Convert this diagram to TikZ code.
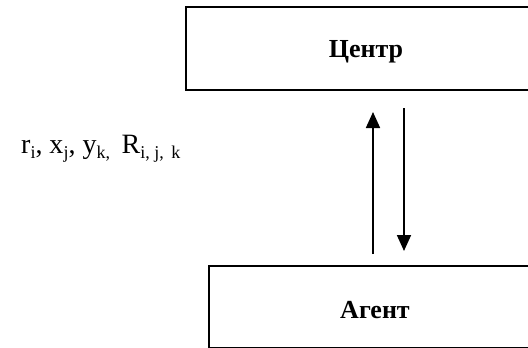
\documentclass[tikz,border=0pt]{standalone}
\usepackage{fontspec}
\setmainfont{Liberation Serif}
\usetikzlibrary{arrows.meta}
\newcommand\sbs[1]{\raisebox{-0.2em}{\fontsize{18}{19}\selectfont #1}}
\tikzset{
  box/.style={draw, line width=1.6pt, anchor=north west, inner sep=0pt},
  boxtext/.style={font=\fontsize{26}{30}\selectfont\bfseries, anchor=base, inner sep=0pt},
  arr/.style={line width=1.7pt, -{Triangle[width=14pt,length=16pt]}},
  lbl/.style={font=\fontsize{28}{30}\selectfont, anchor=base west, inner sep=0pt}
}
\begin{document}
\begin{tikzpicture}[x=1pt,y=-1pt]
\useasboundingbox (0,0) rectangle (528,348);
\clip (0,0) rectangle (528,348);
\node[box, minimum width=380pt, minimum height=83pt] (centre) at (185,6) {};
\node[boxtext] (centretext) at (366,57) {Центр};
\node[box, minimum width=360pt, minimum height=82pt] (agent) at (208,265) {};
\node[boxtext] (agenttext) at (375,318) {Агент};
\coordinate (upstart) at (373,254);
\coordinate (upend) at (373,112);
\coordinate (downstart) at (404,108);
\coordinate (downend) at (404,251);
\draw[arr] (upstart) -- (upend);
\draw[arr] (downstart) -- (downend);
\node[lbl] (params) at (21,153) {r\sbs{i}, x\sbs{j}, y\sbs{k,}\, R\sbs{i, j,\, k}};
\end{tikzpicture}
\end{document}
